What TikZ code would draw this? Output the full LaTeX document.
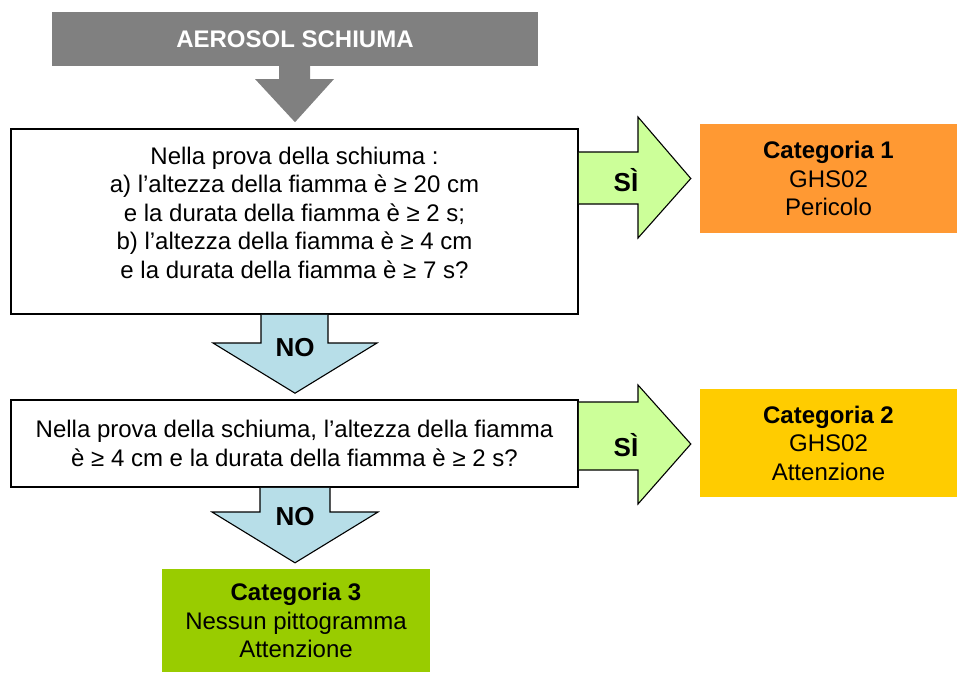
\documentclass[tikz,border=0pt]{standalone}
\usepackage{fontspec}
\setmainfont{Liberation Sans}
\usetikzlibrary{calc}
\definecolor{headgray}{HTML}{808080}
\definecolor{sigreen}{HTML}{CCFF99}
\definecolor{noblue}{HTML}{B7DEE8}
\definecolor{catorange}{HTML}{FF9933}
\definecolor{catyellow}{HTML}{FFCC00}
\definecolor{catgreen}{HTML}{99CC00}
\tikzset{
	qbox/.style={draw=black, line width=1.6pt, fill=white},
	qtext/.style={align=center, inner sep=0pt, font=\fontsize{24}{28.5}\selectfont},
	catbox/.style={align=center, inner sep=0pt, font=\fontsize{24}{28.5}\selectfont},
	siarrow/.style={draw=black, line width=1.1pt, fill=sigreen, line join=miter},
	noarrow/.style={draw=black, line width=1.1pt, fill=noblue, line join=miter},
	arrowlabel/.style={inner sep=0pt, font=\fontsize{26}{30}\selectfont\bfseries},
}

\begin{document}
\begin{tikzpicture}[x=1pt, y=-1pt]
			%%%%% START %%%%%
			\useasboundingbox (0, 0) rectangle (957, 672);
			
			\node[fill=headgray, minimum width=486, minimum height=54, text=white, font=\fontsize{24}{28.5}\selectfont\bfseries] (top) at (295, 39) {AEROSOL SCHIUMA};
			
			\node[qbox, minimum width=567, minimum height=185] (q1) at (294.5, 221.5) {};
			\node[qtext] (q1txt) at (294.5, 212.5) {Nella prova della schiuma :\\a) l’altezza della fiamma è ≥ 20 cm\\e la durata della fiamma è ≥ 2 s;\\b) l’altezza della fiamma è ≥ 4 cm\\e la durata della fiamma è ≥ 7 s?};
			
			\node[qbox, qtext, minimum width=567, minimum height=87] (q2) at (294.5, 443.5) {Nella prova della schiuma, l’altezza della fiamma\\è ≥ 4 cm e la durata della fiamma è ≥ 2 s?};
			
			\node[catbox, fill=catorange, minimum width=257, minimum height=109] (cat1) at (828.5, 178.5) {\textbf{Categoria 1}\\GHS02\\Pericolo};
			\node[catbox, fill=catyellow, minimum width=257, minimum height=108] (cat2) at (828.5, 443) {\textbf{Categoria 2}\\GHS02\\Attenzione};
			\node[catbox, fill=catgreen, minimum width=268, minimum height=103] (cat3) at (296, 620.5) {\textbf{Categoria 3}\\Nessun pittogramma\\Attenzione};
			
			% gray arrow
			\fill[headgray] (279, 0 |- top.south) -- (279, 79) -- (255, 79) -- ($(q1.north)+(0.5, -6)$) -- (334, 79) -- (310, 79) -- (310, 0 |- top.south) -- cycle;
			
			% yes arrows
			\draw[siarrow] (q1.east |- 0, 152) -- (638, 152) -- (638, 117) -- ($(cat1.west)+(-9, 0)$) -- (638, 238) -- (638, 204) -- (q1.east |- 0, 204);
			\draw[siarrow] (q2.east |- 0, 402) -- (638, 402) -- (638, 385) -- ($(cat2.west)+(-9, 1)$) -- (638, 504) -- (638, 470) -- (q2.east |- 0, 470);
			\node[arrowlabel] (si1) at (626, 180) {SÌ};
			\node[arrowlabel] (si2) at (626, 445) {SÌ};
			
			% no arrows
			\draw[noarrow] (261, 0 |- q1.south) -- (261, 343) -- (213, 343) -- ($(q2.north)+(0.5, -6)$) -- (377, 343) -- (328, 343) -- (328, 0 |- q1.south);
			\draw[noarrow] (260, 0 |- q2.south) -- (260, 512) -- (212, 512) -- ($(cat3.north)+(-1, -6)$) -- (378, 512) -- (330, 512) -- (330, 0 |- q2.south);
			\node[arrowlabel] (no1) at (295, 348) {NO};
			\node[arrowlabel] (no2) at (295, 517) {NO};
			
			%%%%% END %%%%%
		\end{tikzpicture}
\end{document}
